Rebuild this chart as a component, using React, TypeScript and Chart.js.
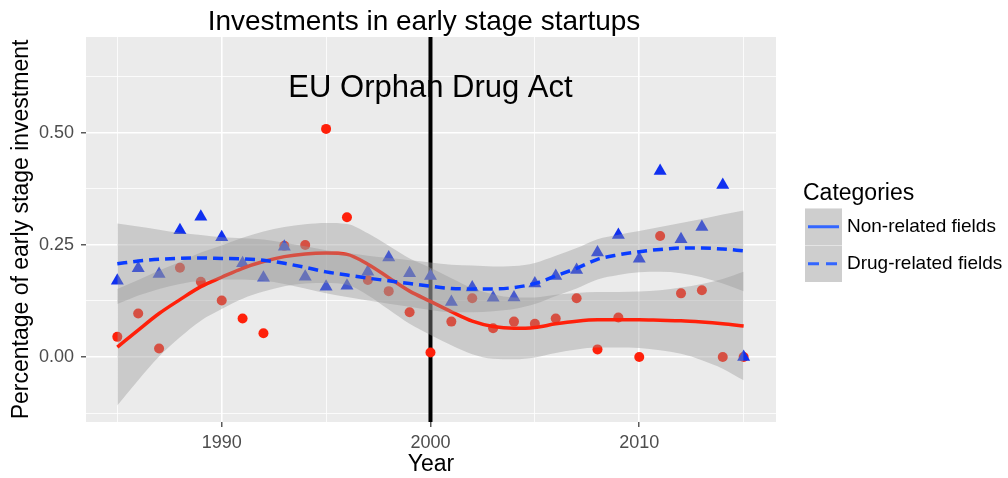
import { useEffect, useRef } from 'react';
import { Chart, registerables } from 'chart.js';

Chart.register(...registerables);

// ---------- data ----------
const years = [1985, 1986, 1987, 1988, 1989, 1990, 1991, 1992, 1993, 1994, 1995, 1996, 1997, 1998, 1999, 2000,
  2001, 2002, 2003, 2004, 2005, 2006, 2007, 2008, 2009, 2010, 2011, 2012, 2013, 2014, 2015];

const nonRelated = [0.045, 0.097, 0.019, 0.199, 0.168, 0.126, 0.086, 0.053, 0.248, 0.250, 0.509, 0.312, 0.172, 0.147, 0.100, 0.010,
  0.079, 0.131, 0.064, 0.079, 0.074, 0.086, 0.131, 0.017, 0.088, 0.000, 0.270, 0.142, 0.149, 0.000, 0.000];

const drugRelated = [0.170, 0.198, 0.185, 0.283, 0.313, 0.267, 0.209, 0.177, 0.246, 0.179, 0.157, 0.159, 0.190, 0.222, 0.187, 0.181,
  0.123, 0.155, 0.132, 0.133, 0.164, 0.181, 0.194, 0.233, 0.272, 0.219, 0.415, 0.263, 0.290, 0.384, 0.000];

const nonFit = [0.022, 0.060, 0.097, 0.128, 0.157, 0.178, 0.198, 0.213, 0.224, 0.230, 0.232, 0.229, 0.207, 0.177, 0.147, 0.124,
  0.101, 0.080, 0.068, 0.064, 0.066, 0.074, 0.080, 0.083, 0.083, 0.083, 0.082, 0.081, 0.078, 0.074, 0.069];
const nonUpper = [0.152, 0.172, 0.193, 0.212, 0.233, 0.249, 0.266, 0.280, 0.290, 0.296, 0.299, 0.297, 0.276, 0.248, 0.220, 0.199,
  0.176, 0.154, 0.140, 0.133, 0.133, 0.139, 0.143, 0.145, 0.145, 0.146, 0.149, 0.155, 0.163, 0.174, 0.190];
const nonLower = [-0.108, -0.052, 0.001, 0.044, 0.081, 0.107, 0.130, 0.146, 0.158, 0.164, 0.165, 0.161, 0.138, 0.106, 0.074, 0.049,
  0.026, 0.006, -0.004, -0.005, -0.001, 0.009, 0.017, 0.021, 0.021, 0.020, 0.015, 0.007, -0.007, -0.026, -0.052];

const drugFit = [0.208, 0.214, 0.218, 0.220, 0.221, 0.220, 0.219, 0.216, 0.209, 0.200, 0.190, 0.183, 0.176, 0.170, 0.164, 0.158,
  0.153, 0.152, 0.152, 0.155, 0.164, 0.181, 0.198, 0.218, 0.228, 0.235, 0.240, 0.243, 0.243, 0.241, 0.237];
const drugUpper = [0.298, 0.291, 0.284, 0.277, 0.272, 0.267, 0.265, 0.262, 0.255, 0.247, 0.238, 0.232, 0.226, 0.221, 0.216, 0.211,
  0.206, 0.204, 0.202, 0.203, 0.210, 0.226, 0.243, 0.263, 0.273, 0.281, 0.290, 0.299, 0.308, 0.318, 0.327];
const drugLower = [0.118, 0.137, 0.152, 0.163, 0.170, 0.173, 0.173, 0.170, 0.163, 0.153, 0.142, 0.134, 0.126, 0.119, 0.112, 0.105,
  0.100, 0.100, 0.102, 0.107, 0.118, 0.136, 0.153, 0.173, 0.183, 0.189, 0.190, 0.187, 0.178, 0.164, 0.147];

const xTicks = [1985, 1990, 1995, 2000, 2005, 2010, 2015];
const xMajor = [1990, 2000, 2010];
const yTicks = [-0.125, 0, 0.125, 0.25, 0.375, 0.5, 0.625];
const yMajor = [0, 0.25, 0.5];

const eventYear = 2000;
const eventLabel = 'EU Orphan Drug Act';
const eventLabelY = 0.6;
const titleText = 'Investments in early stage startups';
const xTitle = 'Year';
const yTitle = 'Percentage of early stage investment';
const legendTitle = 'Categories';
const legendLabels = ['Non-related fields', 'Drug-related fields'];

// ---------- styles ----------
const FONT = "'Liberation Sans', Arial, Helvetica, sans-serif";
const BAND = 'rgba(153,153,153,0.4)';
const RED = 'rgb(255,32,10)';
const BLUE = 'rgb(16,48,240)';
const BLUE_LINE = 'rgb(10,60,255)';

const toXY = (arr: number[]) => years.map((x, i) => ({ x, y: arr[i] }));
const isMajor = (list: number[], v: number) => list.some((m) => Math.abs(m - v) < 1e-9);

const decor = {
  id: 'decor',
  beforeDraw(chart: any) {
    const { ctx, chartArea } = chart;
    const { left, top, right, bottom } = chartArea;
    ctx.save();
    ctx.fillStyle = '#FFFFFF';
    ctx.fillRect(0, 0, chart.width, chart.height);
    ctx.fillStyle = '#EBEBEB';
    ctx.fillRect(left, top, right - left, bottom - top);
    ctx.restore();
  },
  beforeDatasetsDraw(chart: any) {
    const { ctx, chartArea, scales } = chart;
    const x = scales.x.getPixelForValue(eventYear);
    ctx.save();
    ctx.strokeStyle = '#000000';
    ctx.lineWidth = 4;
    ctx.beginPath();
    ctx.moveTo(x, chartArea.top);
    ctx.lineTo(x, chartArea.bottom);
    ctx.stroke();
    ctx.restore();
  },
  afterDatasetsDraw(chart: any) {
    const { ctx, scales } = chart;
    ctx.save();
    ctx.fillStyle = '#000000';
    ctx.font = `31px ${FONT}`;
    ctx.textAlign = 'center';
    ctx.textBaseline = 'middle';
    ctx.fillText(eventLabel, scales.x.getPixelForValue(eventYear), scales.y.getPixelForValue(eventLabelY));
    ctx.restore();
  },
  afterDraw(chart: any) {
    const { ctx, chartArea } = chart;
    const cx = (chartArea.left + chartArea.right) / 2;
    const cy = (chartArea.top + chartArea.bottom) / 2;
    ctx.save();
    ctx.fillStyle = '#000000';
    // title
    ctx.font = `28px ${FONT}`;
    ctx.textAlign = 'center';
    ctx.textBaseline = 'alphabetic';
    ctx.fillText(titleText, cx - 7, 30);
    // x title
    ctx.font = `23px ${FONT}`;
    ctx.fillText(xTitle, cx, 471);
    // y title
    ctx.save();
    ctx.translate(28, cy);
    ctx.rotate(-Math.PI / 2);
    ctx.fillText(yTitle, 0, 0);
    ctx.restore();
    // legend
    ctx.textAlign = 'left';
    ctx.font = `23px ${FONT}`;
    ctx.fillText(legendTitle, 803, 200);
    const keyX = 805;
    const keyW = 37;
    const rows = [{ top: 208.5, h: 36.5 }, { top: 245.5, h: 36.5 }];
    rows.forEach((r, i) => {
      ctx.fillStyle = '#F2F2F2';
      ctx.fillRect(keyX, r.top, keyW, r.h);
      ctx.fillStyle = BAND;
      ctx.fillRect(keyX, r.top, keyW, r.h);
      const ly = r.top + r.h / 2;
      ctx.strokeStyle = '#3366FF';
      ctx.lineWidth = 3;
      ctx.setLineDash(i === 0 ? [] : [11, 7]);
      ctx.beginPath();
      ctx.moveTo(keyX + 3, ly);
      ctx.lineTo(keyX + keyW - 3, ly);
      ctx.stroke();
      ctx.setLineDash([]);
      ctx.fillStyle = '#000000';
      ctx.font = `19px ${FONT}`;
      ctx.textBaseline = 'middle';
      ctx.fillText(legendLabels[i], 847, ly);
    });
    ctx.restore();
  },
};

export default function App() {
  const ref = useRef<HTMLCanvasElement | null>(null);

  useEffect(() => {
    if (!ref.current) return;
    const tickFont = { family: FONT, size: 18 };
    const chart = new Chart(ref.current, {
      type: 'line',
      data: {
        datasets: [
          {
            label: 'Drug-related fit',
            data: toXY(drugFit),
            borderColor: BLUE_LINE,
            borderWidth: 3.5,
            borderDash: [10, 6],
            pointRadius: 0,
            cubicInterpolationMode: 'monotone',
            fill: false,
            order: 0,
          },
          {
            label: 'Drug-related upper',
            data: toXY(drugUpper),
            borderColor: 'rgba(0,0,0,0)',
            borderWidth: 0,
            backgroundColor: BAND,
            pointRadius: 0,
            cubicInterpolationMode: 'monotone',
            fill: '+1',
            order: 1,
          },
          {
            label: 'Drug-related lower',
            data: toXY(drugLower),
            borderColor: 'rgba(0,0,0,0)',
            borderWidth: 0,
            pointRadius: 0,
            cubicInterpolationMode: 'monotone',
            fill: false,
            order: 1,
          },
          {
            label: 'Non-related fit',
            data: toXY(nonFit),
            borderColor: RED,
            borderWidth: 3.5,
            pointRadius: 0,
            cubicInterpolationMode: 'monotone',
            fill: false,
            order: 2,
          },
          {
            label: 'Non-related upper',
            data: toXY(nonUpper),
            borderColor: 'rgba(0,0,0,0)',
            borderWidth: 0,
            backgroundColor: BAND,
            pointRadius: 0,
            cubicInterpolationMode: 'monotone',
            fill: '+1',
            order: 3,
          },
          {
            label: 'Non-related lower',
            data: toXY(nonLower),
            borderColor: 'rgba(0,0,0,0)',
            borderWidth: 0,
            pointRadius: 0,
            cubicInterpolationMode: 'monotone',
            fill: false,
            order: 3,
          },
          {
            label: 'Drug-related fields',
            data: toXY(drugRelated),
            showLine: false,
            pointStyle: 'triangle',
            pointRadius: 7.5,
            pointBackgroundColor: BLUE,
            pointBorderWidth: 0,
            pointBorderColor: BLUE,
            fill: false,
            order: 4,
          },
          {
            label: 'Non-related fields',
            data: toXY(nonRelated),
            showLine: false,
            pointStyle: 'circle',
            pointRadius: 5,
            pointBackgroundColor: RED,
            pointBorderWidth: 0,
            pointBorderColor: RED,
            fill: false,
            order: 5,
          },
        ],
      } as any,
      options: {
        animation: false,
        responsive: false,
        events: [],
        layout: { padding: { top: 37, right: 232, left: 0, bottom: 0 } },
        plugins: {
          legend: { display: false },
          tooltip: { enabled: false },
          title: { display: false },
        },
        scales: {
          x: {
            type: 'linear',
            min: 1983.5,
            max: 2016.55,
            afterBuildTicks: (s: any) => {
              s.ticks = xTicks.map((v) => ({ value: v }));
            },
            afterFit: (s: any) => {
              s.height = 56;
            },
            border: { display: false },
            grid: {
              color: '#FFFFFF',
              lineWidth: (c: any) => (isMajor(xMajor, c.tick?.value) ? 1.6 : 0.8),
              tickColor: (c: any) => (isMajor(xMajor, c.tick?.value) ? '#333333' : 'rgba(0,0,0,0)'),
              tickLength: 5,
              tickWidth: 1.2,
            },
            ticks: {
              autoSkip: false,
              maxRotation: 0,
              padding: 5,
              color: '#4D4D4D',
              font: tickFont,
              callback: (v: any) => (isMajor(xMajor, Number(v)) ? String(v) : ''),
            },
          },
          y: {
            type: 'linear',
            min: -0.145,
            max: 0.714,
            afterBuildTicks: (s: any) => {
              s.ticks = yTicks.map((v) => ({ value: v }));
            },
            afterFit: (s: any) => {
              s.width = 86;
            },
            border: { display: false },
            grid: {
              color: '#FFFFFF',
              lineWidth: (c: any) => (isMajor(yMajor, c.tick?.value) ? 1.6 : 0.8),
              tickColor: (c: any) => (isMajor(yMajor, c.tick?.value) ? '#333333' : 'rgba(0,0,0,0)'),
              tickLength: 5,
              tickWidth: 1.2,
            },
            ticks: {
              autoSkip: false,
              padding: 7,
              color: '#4D4D4D',
              font: tickFont,
              callback: (v: any) => (isMajor(yMajor, Number(v)) ? Number(v).toFixed(2) : ''),
            },
          },
        },
      } as any,
      plugins: [decor],
    });
    return () => chart.destroy();
  }, []);

  return (
    <div style={{ position: 'absolute', left: 0, top: 0, width: 1008, height: 478, background: '#FFFFFF' }}>
      <canvas ref={ref} width={1008} height={478} style={{ display: 'block' }} />
    </div>
  );
}
